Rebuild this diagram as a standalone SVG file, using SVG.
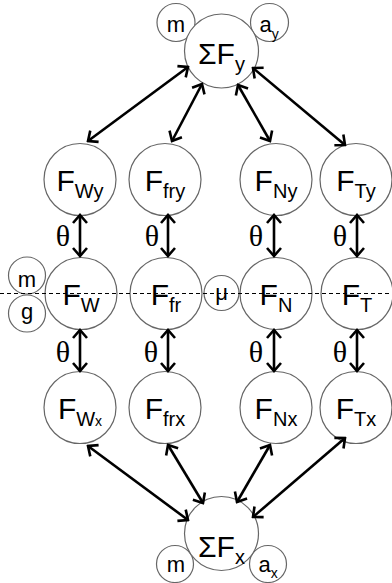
<svg xmlns="http://www.w3.org/2000/svg" width="392" height="583" viewBox="0 0 392 583">
<defs>
<style>
.c{fill:#fff;stroke:#666;stroke-width:1.2}
.t{font-family:"Liberation Sans",Arial,sans-serif;font-size:30px;fill:#000;text-anchor:middle}
.s{font-family:"Liberation Sans",Arial,sans-serif;font-size:22px;fill:#000;text-anchor:middle}
.th{font-family:"Liberation Serif","Times New Roman",serif;font-size:30px;fill:#000;text-anchor:middle}
.a{stroke:#000;stroke-width:2.6;fill:none;marker-start:url(#ah);marker-end:url(#ah)}
.d{stroke:#000;stroke-width:1;stroke-dasharray:4 3;fill:none}
</style>
<marker id="ah" viewBox="-12 -10 14 20" markerWidth="14" markerHeight="20" refX="0" refY="0" orient="auto-start-reverse" markerUnits="userSpaceOnUse">
<path d="M-8,-7 L0,0 L-8,7" fill="none" stroke="#000" stroke-width="2.6" stroke-linejoin="miter"/>
</marker>
</defs>
<rect width="392" height="583" fill="#fff"/>

<g id="sumFy">
<circle class="c" cx="176" cy="22.5" r="19"/>
<circle class="c" cx="269.5" cy="22.5" r="19"/>
<circle class="c" cx="221.5" cy="51" r="37"/>
<text class="s" x="176" y="32">m</text>
<text class="s" x="269" y="32">a<tspan font-size="14" dy="7">y</tspan></text>
<text class="t" x="221.5" y="64">ΣF<tspan font-size="20" dy="7">y</tspan></text>
</g>

<g id="FWy"><circle class="c" cx="80" cy="179.5" r="36"/><text class="t" x="80" y="190.5">F<tspan font-size="20" dy="7">Wy</tspan></text></g>
<g id="Ffry"><circle class="c" cx="165" cy="179.5" r="36"/><text class="t" x="165" y="190.5">F<tspan font-size="20" dy="7">fry</tspan></text></g>
<g id="FNy"><circle class="c" cx="276" cy="179.5" r="36"/><text class="t" x="276" y="190.5">F<tspan font-size="20" dy="7">Ny</tspan></text></g>
<g id="FTy"><circle class="c" cx="356" cy="179.5" r="36"/><text class="t" x="356" y="190.5">F<tspan font-size="20" dy="7">Ty</tspan></text></g>

<g id="m_left"><circle class="c" cx="27" cy="275.5" r="18.5"/></g>
<g id="g_left"><circle class="c" cx="27" cy="313.5" r="18.5"/></g>
<g id="mu"><circle class="c" cx="221.5" cy="293" r="17.5"/></g>
<g id="FW"><circle class="c" cx="81" cy="293.5" r="36"/></g>
<g id="Ffr"><circle class="c" cx="166" cy="293.5" r="36"/></g>
<g id="FN"><circle class="c" cx="276" cy="293.5" r="36"/></g>
<g id="FT"><circle class="c" cx="357" cy="293.5" r="36"/></g>

<line id="dash" class="d" x1="0" y1="293.5" x2="392" y2="293.5"/>

<g id="labels_mid">
<text class="s" x="27" y="287">m</text>
<text class="s" x="27" y="319">g</text>
<text class="s" x="221.5" y="300">μ</text>
<text class="t" x="81" y="305">F<tspan font-size="20" dy="7">W</tspan></text>
<text class="t" x="166" y="305">F<tspan font-size="20" dy="7">fr</tspan></text>
<text class="t" x="276" y="305">F<tspan font-size="20" dy="7">N</tspan></text>
<text class="t" x="357" y="305">F<tspan font-size="20" dy="7">T</tspan></text>
</g>

<g id="FWx"><circle class="c" cx="80" cy="407.5" r="36"/><text class="t" x="80" y="419">F<tspan font-size="20" dy="7">W</tspan><tspan font-size="14">x</tspan></text></g>
<g id="Ffrx"><circle class="c" cx="165" cy="407.5" r="36"/><text class="t" x="165" y="419">F<tspan font-size="20" dy="7">frx</tspan></text></g>
<g id="FNx"><circle class="c" cx="276" cy="407.5" r="36"/><text class="t" x="276" y="419">F<tspan font-size="20" dy="7">Nx</tspan></text></g>
<g id="FTx"><circle class="c" cx="356" cy="407.5" r="36"/><text class="t" x="356" y="419">F<tspan font-size="20" dy="7">Tx</tspan></text></g>

<g id="sumFx">
<circle class="c" cx="175" cy="564" r="18.5"/>
<circle class="c" cx="268" cy="564" r="18.5"/>
<circle class="c" cx="221.5" cy="533.5" r="37"/>
<text class="s" x="176" y="572">m</text>
<text class="s" x="268" y="572">a<tspan font-size="14" dy="6">x</tspan></text>
<text class="t" x="221.5" y="557">ΣF<tspan font-size="20" dy="7">x</tspan></text>
</g>

<g id="thetas">
<text class="th" x="63" y="246">θ</text>
<text class="th" x="152" y="246">θ</text>
<text class="th" x="256" y="246">θ</text>
<text class="th" x="340" y="246">θ</text>
<text class="th" x="63" y="362">θ</text>
<text class="th" x="151" y="362">θ</text>
<text class="th" x="256" y="362">θ</text>
<text class="th" x="340" y="362">θ</text>
</g>

<g id="connectors">
<line class="a" x1="88" y1="141" x2="188" y2="67"/>
<line class="a" x1="172" y1="141" x2="202" y2="84"/>
<line class="a" x1="270" y1="141" x2="238" y2="85"/>
<line class="a" x1="345" y1="145" x2="253" y2="68"/>
<line class="a" x1="80" y1="215" x2="80" y2="256"/>
<line class="a" x1="168" y1="215" x2="168" y2="256"/>
<line class="a" x1="274" y1="215" x2="274" y2="256"/>
<line class="a" x1="357" y1="215" x2="357" y2="256"/>
<line class="a" x1="80" y1="330" x2="80" y2="371"/>
<line class="a" x1="168" y1="330" x2="168" y2="371"/>
<line class="a" x1="274" y1="330" x2="274" y2="371"/>
<line class="a" x1="357" y1="330" x2="357" y2="371"/>
<line class="a" x1="88" y1="446" x2="188" y2="520"/>
<line class="a" x1="168" y1="445" x2="203" y2="503"/>
<line class="a" x1="270" y1="445" x2="237" y2="502"/>
<line class="a" x1="345" y1="438" x2="253" y2="517"/>
</g>
</svg>
